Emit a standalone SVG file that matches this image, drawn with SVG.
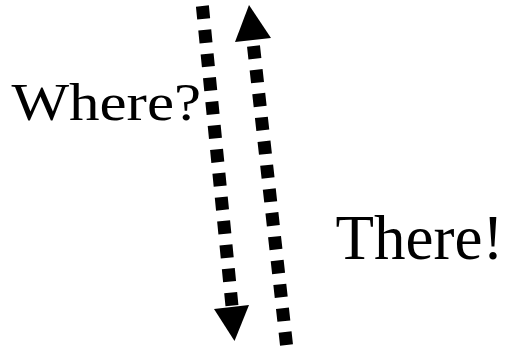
<svg xmlns="http://www.w3.org/2000/svg" width="505" height="346" viewBox="0 0 505 346">
<style>
.lbl{font-family:"Liberation Serif","Times New Roman",serif;fill:#000}
.dot{fill:none;stroke:#000;stroke-width:13;stroke-dasharray:13 11}
</style>
<rect width="505" height="346" fill="#fff"/>
<g id="connectors">
<path class="dot" d="M202.4,6 L232,306"/>
<polygon points="214,309 249,305 234.5,341" fill="#000"/>
<path class="dot" d="M286.5,345 L253.5,46"/>
<polygon points="235,42 271,38 249,5" fill="#000"/>
</g>
<g id="where"><text class="lbl" font-size="61" transform="translate(11.5,120) scale(1,0.87)">Where?</text></g>
<g id="there"><text class="lbl" font-size="63" x="335.5" y="258.5">There!</text></g>
</svg>
